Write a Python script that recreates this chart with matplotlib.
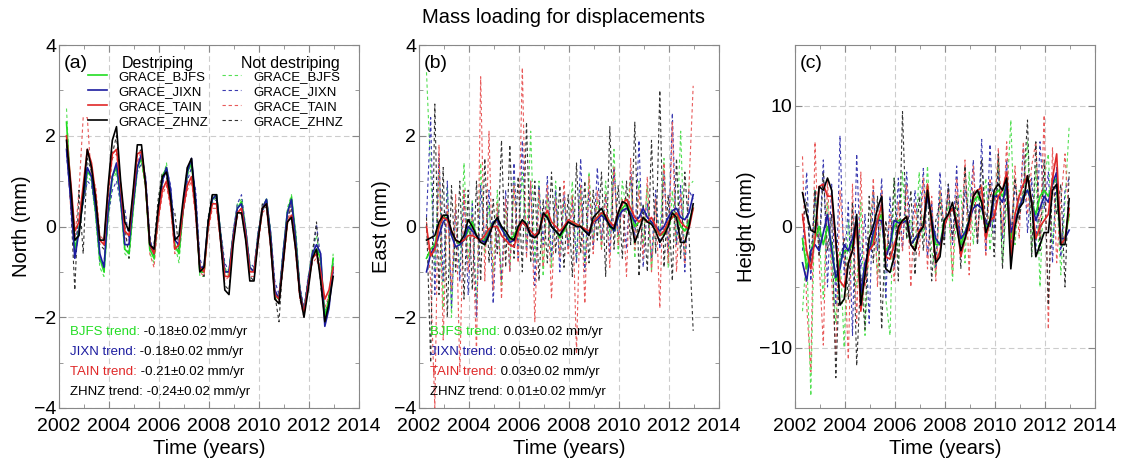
import numpy as np
import matplotlib
matplotlib.use("Agg")
import matplotlib.pyplot as plt
from matplotlib.lines import Line2D

plt.rcParams["font.family"] = ["Liberation Sans", "DejaVu Sans"]

# bimonthly GRACE epochs, 2002.3 .. 2012.97
years = np.round(2002.3 + np.arange(65) / 6.0, 3)

stations = ["BJFS", "JIXN", "TAIN", "ZHNZ"]
colors = ["#22dd22", "#1c1ca0", "#e02828", "#000000"]
colors_nd = ["#55e055", "#3a3ab0", "#e85a5a", "#333333"]

# ---- North (mm) ----
north_destr = {
    "BJFS": [2.3, 0.8, -0.5, -0.1, 0.6,
             1.2, 1.1, 0.3, -0.7, -1.0, 0.3,
             1.1, 1.3, 0.6, -0.5, -0.6, 0.4,
             1.3, 1.5, 0.9, -0.5, -0.7, 0.3,
             1.1, 1.3, 0.7, -0.4, -0.6, 0.4,
             1.2, 1.4, 0.5, -1.0, -1.0, 0.1,
             0.6, 0.7, -0.2, -1.0, -1.0, -0.2,
             0.4, 0.55, -0.1, -0.9, -1.0, -0.2,
             0.4, 0.6, -0.2, -1.5, -1.6, -0.6,
             0.3, 0.65, -0.2, -1.4, -1.9, -1.2,
             -0.6, -0.5, -0.7, -2.0, -1.6, -0.7],
    "JIXN": [1.7, 0.6, -0.7, -0.1, 0.6,
             1.3, 1.1, 0.4, -0.6, -0.9, 0.4,
             1.1, 1.4, 0.6, -0.4, -0.4, 0.5,
             1.3, 1.6, 1.0, -0.4, -0.6, 0.3,
             1.0, 1.3, 0.8, -0.3, -0.4, 0.4,
             1.2, 1.5, 0.6, -0.9, -0.9, 0.1,
             0.6, 0.7, -0.2, -1.0, -1.0, -0.2,
             0.4, 0.5, -0.1, -0.9, -1.0, -0.2,
             0.4, 0.6, -0.2, -1.4, -1.6, -0.6,
             0.3, 0.6, -0.3, -1.4, -1.9, -1.2,
             -0.6, -0.4, -0.6, -2.2, -1.8, -0.9],
    "TAIN": [2.0, 1.0, -0.1, 0.1, 0.9,
             1.7, 1.4, 0.7, -0.3, -0.4, 0.8,
             1.6, 1.7, 0.9, -0.1, -0.2, 0.7,
             1.6, 1.65, 0.9, -0.4, -0.6, 0.2,
             0.8, 1.0, 0.5, -0.5, -0.4, 0.4,
             0.9, 1.1, 0.3, -0.9, -1.0, 0.0,
             0.5, 0.5, -0.3, -1.1, -1.1, -0.3,
             0.3, 0.4, -0.2, -1.0, -1.0, -0.3,
             0.4, 0.5, -0.4, -1.5, -1.6, -0.8,
             0.1, 0.25, -0.5, -1.5, -1.9, -1.3,
             -0.7, -0.6, -1.0, -1.6, -1.4, -0.9],
    "ZHNZ": [1.9, 0.9, -0.3, -0.2, 0.7,
             1.7, 1.3, 0.6, -0.3, -0.3, 0.9,
             1.9, 2.2, 1.0, 0.1, -0.1, 0.8,
             1.8, 1.8, 0.9, -0.4, -0.5, 0.4,
             1.1, 1.2, 0.6, -0.3, -0.2, 0.6,
             1.3, 1.5, 0.4, -1.0, -0.9, 0.1,
             0.7, 0.7, -0.3, -1.4, -1.5, -0.4,
             0.3, 0.3, -0.3, -1.2, -1.2, -0.3,
             0.4, 0.5, -0.4, -1.6, -1.7, -0.8,
             0.1, 0.2, -0.5, -1.5, -2.0, -1.4,
             -0.7, -0.5, -1.2, -2.1, -1.7, -1.1],
}
north_nodestr = {
    "BJFS": [2.6, 0.7, -0.6, 0.0, 0.8,
             1.1, 1.0, 0.2, -0.9, -1.1, 0.2,
             1.0, 1.2, 0.5, -0.6, -0.7, 0.3,
             1.2, 1.4, 0.8, -0.6, -0.8, 0.3,
             1.0, 1.4, 0.6, -0.4, -0.8, 0.3,
             1.1, 1.4, 0.6, -1.1, -1.1, 0.0,
             0.5, 0.7, -0.3, -0.9, -1.1, -0.3,
             0.5, 0.6, 0.0, -0.9, -1.0, -0.2,
             0.3, 0.6, -0.2, -1.6, -1.6, -0.7,
             0.4, 0.7, -0.3, -1.5, -1.8, -1.2,
             -0.5, -0.2, -0.8, -1.9, -1.6, -0.6],
    "JIXN": [1.6, 0.5, -0.5, 0.2, 0.5,
             1.0, 0.9, 0.3, -0.8, -0.8, 0.2,
             0.8, 1.0, 0.5, 0.4, -0.3, 0.6,
             1.2, 1.4, 1.1, -0.2, -0.7, 0.2,
             0.9, 1.3, 0.9, -0.2, -0.5, 0.3,
             1.0, 1.3, 0.8, -0.7, -1.0, 0.2,
             0.5, 0.6, -0.1, -0.8, -1.0, -0.1,
             0.5, 0.7, 0.0, -0.8, -0.9, -0.1,
             0.3, 0.6, -0.1, -1.2, -1.5, -0.5,
             0.2, 0.5, -0.1, -1.3, -1.8, -1.1,
             -0.8, 0.05, -0.7, -2.1, -1.7, -0.8],
    "TAIN": [1.9, 0.4, -0.3, 0.8, 2.4,
             2.4, 1.0, 0.9, -0.2, -0.3, 0.7,
             1.5, 1.6, 0.8, -0.2, -0.4, 0.8,
             1.4, 1.7, 0.8, -0.6, -0.9, 0.1,
             0.7, 0.9, 0.4, -0.6, -0.5, 0.3,
             0.8, 1.0, 0.2, -1.0, -1.1, -0.1,
             0.4, 0.4, -0.4, -1.2, -1.1, -0.2,
             0.2, 0.3, -0.3, -1.1, -1.1, -0.4,
             0.3, 0.4, -0.5, -1.6, -1.7, -0.9,
             0.0, 0.6, -0.6, -1.6, -2.0, -1.2,
             -0.8, -0.7, -1.1, -1.8, -1.5, -1.0],
    "ZHNZ": [1.8, 0.5, -1.4, 0.8, -0.6,
             1.5, 1.2, 0.5, -0.4, -0.5, 0.7,
             1.6, 2.0, 0.9, 0.0, -0.7, 0.6,
             1.6, 1.7, 1.0, -0.5, -0.4, 0.6,
             1.2, 1.1, 0.5, 0.3, -0.5, 0.5,
             1.3, 1.4, 0.5, -0.9, -1.1, 0.2,
             0.7, 0.6, -0.4, -1.3, -1.4, -0.3,
             0.3, 0.4, -0.2, -1.1, -1.2, -0.2,
             0.5, 0.4, -0.5, -1.5, -2.1, -0.7,
             0.2, 0.4, -0.4, -1.6, -1.9, -1.3,
             -0.6, 0.1, -1.3, -2.0, -1.5, -1.0],
}

# ---- East (mm) ----
east_destr = {
    "BJFS": [-0.7, -0.5, -0.4, 0.0, 0.2,
             0.2, -0.15, -0.3, -0.4, -0.3, -0.1,
             0.1, -0.2, -0.3, -0.3, -0.1, 0.1,
             0.15, 0.0, -0.2, -0.3, -0.2, 0.0,
             0.1, 0.0, -0.2, -0.2, -0.1, 0.25,
             0.25, 0.0, -0.1, -0.25, -0.1, 0.1,
             0.1, 0.05, 0.0, -0.1, -0.15, 0.1,
             0.2, 0.3, 0.2, 0.0, -0.1, 0.2,
             0.4, 0.5, 0.3, 0.0, 0.1, 0.2,
             0.1, 0.1, 0.0, -0.2, -0.15, 0.1,
             0.2, 0.3, 0.0, -0.1, 0.1, 0.4],
    "JIXN": [-1.0, -0.6, -0.45, -0.2, 0.1,
             0.2, -0.2, -0.45, -0.4, -0.3, 0.0,
             -0.1, -0.2, -0.3, -0.35, -0.15, 0.1,
             0.15, -0.05, -0.2, -0.35, -0.3, -0.1,
             0.1, 0.0, -0.2, -0.2, -0.1, 0.25,
             0.2, 0.0, -0.1, -0.2, 0.0, 0.1,
             0.05, 0.0, 0.0, -0.1, -0.15, 0.1,
             0.15, 0.25, 0.15, 0.05, -0.1, 0.2,
             0.35, 0.4, 0.3, 0.1, 0.2, 0.4,
             0.2, 0.1, 0.0, -0.1, 0.0, 0.2,
             0.35, 0.4, 0.2, 0.15, 0.3, 0.7],
    "TAIN": [0.0, -0.65, -0.5, 0.0, 0.2,
             0.15, -0.1, -0.3, -0.35, -0.3, -0.2,
             -0.2, -0.25, -0.3, -0.2, -0.05, 0.0,
             0.0, -0.2, -0.3, -0.4, -0.45, -0.1,
             0.1, 0.0, -0.1, -0.2, -0.1, 0.2,
             0.35, 0.1, 0.0, -0.1, 0.0, 0.15,
             0.1, 0.05, 0.0, -0.05, -0.1, 0.1,
             0.2, 0.3, 0.25, 0.1, 0.0, 0.3,
             0.5, 0.6, 0.4, 0.2, 0.1, 0.2,
             0.1, 0.2, 0.0, -0.2, -0.1, 0.1,
             0.2, 0.3, 0.1, 0.0, -0.05, 0.4],
    "ZHNZ": [-0.3, -0.25, -0.2, 0.1, 0.25,
             0.25, -0.1, -0.3, -0.35, -0.2, 0.15,
             0.0, -0.2, -0.35, -0.4, -0.2, 0.05,
             0.2, 0.0, -0.1, -0.25, -0.3, 0.0,
             0.15, 0.05, -0.2, -0.25, -0.15, 0.3,
             0.2, 0.0, -0.1, -0.2, -0.05, 0.1,
             0.05, 0.0, 0.0, -0.1, -0.2, 0.2,
             0.3, 0.4, 0.2, 0.0, -0.05, 0.3,
             0.55, 0.5, 0.2, -0.35, -0.1, 0.2,
             0.1, 0.05, -0.1, -0.35, -0.2, 0.0,
             0.3, 0.2, -0.35, -0.35, 0.0, 0.5],
}
east_nodestr = {
    "BJFS": [3.4, 1.2, -1.0, 1.5, -1.8,
             0.9, -2.0, 0.5, -1.0, 1.4, -0.8,
             0.6, -1.7, 1.4, -0.6, 0.5, -1.0,
             0.8, -1.3, 0.4, -0.9, 1.0, -0.5,
             1.2, -0.5, 2.1, -0.8, 1.0, -1.1,
             0.7, -0.9, 1.0, -0.6, 0.6, -0.4,
             1.0, -0.8, 0.9, -0.9, 1.2, -0.3,
             0.6, -0.5, 1.0, -0.2, 1.7, -0.6,
             1.0, 0.3, 1.1, -0.7, 1.0, -0.4,
             0.9, -1.0, 0.6, -0.2, 1.5, -0.9,
             0.8, -0.4, 2.1, -0.8, 0.9, 1.0],
    "JIXN": [0.2, 2.4, -1.5, 1.6, -1.2,
             1.0, -1.8, 0.4, -1.2, 0.8, -1.5,
             0.5, -2.0, 0.9, -0.4, 0.8, -1.7,
             0.3, -1.2, 0.8, -1.0, 1.4, -0.7,
             1.9, -0.6, 1.0, -1.3, 0.9, -0.4,
             1.1, -0.7, 0.8, -1.0, 0.7, -0.5,
             0.6, -0.8, 1.5, -1.0, 0.8, -0.5,
             1.3, -0.3, 0.7, -0.6, 1.3, -0.2,
             0.5, -0.5, 1.2, -0.3, 1.9, -0.9,
             0.5, -0.7, 0.8, -0.5, 1.2, -0.6,
             2.5, -0.4, 0.9, -1.0, 0.8, 0.6],
    "TAIN": [0.1, -1.2, -4.0, 1.8, -2.5,
             0.5, -1.4, 0.7, -3.2, 0.8, -1.0,
             0.2, -2.8, 3.3, -1.2, 2.1, -1.4,
             0.5, -1.6, 0.6, -1.0, 0.9, -0.8,
             3.5, -0.7, 1.0, -2.1, 0.8, -0.9,
             0.9, -1.6, 0.6, -0.7, 1.0, -0.6,
             0.7, -2.8, 0.9, -1.7, 1.1, -0.6,
             0.8, -0.5, 0.7, -0.9, 1.3, -0.4,
             0.6, -1.1, 1.5, -0.5, 0.8, -0.7,
             1.1, -1.0, 0.6, -1.8, 1.4, -0.8,
             2.3, -1.0, 0.7, -0.8, 0.9, 3.1],
    "ZHNZ": [0.2, -3.0, 2.7, -1.5, 1.3,
             -2.0, 0.9, -1.0, 1.0, -1.6, 0.8,
             -1.4, 1.0, -1.2, 1.5, -0.8, 0.6,
             -0.6, 1.9, -0.9, 1.8, -0.7, 1.1,
             -1.0, 2.3, -0.8, 1.0, -1.2, 0.6,
             -0.8, 1.2, -0.6, 0.9, -0.9, 0.7,
             -1.1, 1.4, -0.6, 1.0, -0.8, 0.8,
             -0.3, 1.2, -1.1, 2.2, -0.5, 0.9,
             -0.7, 1.0, -0.4, 2.3, -1.1, 0.5,
             -1.0, 1.9, -0.6, 3.0, -0.9, 0.7,
             -1.2, 1.5, -0.7, 1.2, -0.2, -2.3],
}

# ---- Height (mm) ----
height_destr = {
    "BJFS": [-1.0, -3.5, -2.0, -1.0, 0.0,
             -1.5, 0.0, -1.5, -4.5, -3.0, -2.0,
             -2.0, -1.5, 0.0, -6.0, -3.5, -2.0,
             -1.0, 0.5, 1.0, -2.0, -1.5, 0.0,
             0.5, 0.5, 0.5, -1.5, -1.0, -0.5,
             0.0, 2.5, 0.5, -1.5, -1.5, 0.5,
             1.0, 1.5, 0.5, -1.5, -0.5, 0.5,
             2.0, 2.5, 2.0, 0.0, 0.5, 2.5,
             3.0, 2.5, 3.5, -1.0, 0.5, 1.5,
             2.5, 3.0, 2.0, 1.0, 2.5, 3.0,
             2.5, 3.5, 4.0, -1.0, -1.0, 1.0],
    "JIXN": [-3.0, -4.5, -2.0, -1.5, -2.0,
             -0.5, 1.0, -2.0, -4.2, -3.5, -1.5,
             -2.0, -1.0, 0.5, -5.5, -3.0, -2.0,
             -0.5, 0.5, 0.5, -2.5, -1.5, 0.5,
             0.3, 0.3, 0.5, -1.5, -1.0, -0.5,
             0.0, 2.5, 0.5, -1.0, -1.5, 0.0,
             1.0, 1.5, 0.5, -1.0, -0.5, 0.5,
             1.5, 1.8, 1.5, 0.3, 0.0, 2.5,
             2.5, 2.0, 3.5, -0.5, 0.5, 1.5,
             2.5, 3.0, 2.0, 0.5, 1.5, 2.5,
             2.0, 3.5, 4.5, -1.0, -1.0, -0.3],
    "TAIN": [1.0, -2.0, -3.5, -1.0, 3.3,
             3.5, 2.5, 2.5, -1.5, -4.5, -5.0,
             -3.0, -2.0, 0.0, -7.0, -4.0, -2.0,
             -1.5, 0.5, 1.8, -2.5, -2.7, -1.5,
             -0.5, 0.5, 0.8, -1.5, -2.0, -0.3,
             0.0, 3.5, 0.0, -3.0, -2.0, 0.0,
             1.0, 1.5, 0.5, -2.5, -1.0, 0.0,
             2.5, 3.0, 3.2, -1.0, 0.5, 0.8,
             2.5, 3.0, 4.5, -2.5, 1.0, 2.5,
             3.5, 4.2, 2.0, -1.0, 0.0, 0.5,
             1.0, 4.0, 6.0, -1.5, -1.0, 1.5],
    "ZHNZ": [2.8, 1.0, -0.3, -0.5, 3.3,
             3.0, 4.0, 3.0, -1.0, -6.5, -6.0,
             -3.0, -2.0, 1.0, -6.5, -4.0, -1.0,
             0.0, 1.5, 2.5, -3.5, -3.8, -2.5,
             0.0, 0.5, 0.8, -1.5, -2.0, -0.5,
             0.0, 3.0, 0.5, -3.0, -2.5, 0.5,
             1.0, 2.0, 0.0, -2.0, -1.0, 0.5,
             2.5, 3.0, 2.0, -0.5, 0.5, 3.0,
             3.5, 3.0, 4.0, -3.5, 0.0, 1.5,
             2.0, 4.2, 2.0, -2.5, -1.5, -0.5,
             -0.5, 3.0, 3.5, -1.5, -1.5, 2.3],
}
height_nodestr = {
    "BJFS": [-7.0, -2.0, -14.0, 3.0, -1.0,
             -6.0, 2.0, -3.0, -8.0, -2.0, -10.0,
             0.5, -4.0, -5.0, 2.0, -9.0, -1.0,
             3.0, -4.0, 1.5, -6.0, -9.0, 4.0,
             -3.0, 4.5, -1.0, 0.5, -2.0, 4.5,
             -1.0, 5.0, -2.0, -4.0, 3.0, -1.0,
             2.0, -4.5, 1.5, 3.0, -3.0, 4.5,
             -1.5, 3.0, 0.5, 4.0, -2.0, 2.0,
             5.5, -3.0, 2.0, 8.8, -1.5, 3.0,
             2.5, 7.0, -2.5, 5.0, -5.0, 4.0,
             6.0, -1.5, 3.0, -4.0, 2.0, 8.3],
    "JIXN": [-2.0, 4.5, -4.5, 3.0, -2.0,
             5.5, -5.0, 3.5, -6.5, 7.5, -4.0,
             2.0, -9.0, 6.0, -3.5, 1.0, -8.0,
             3.0, -2.0, 4.0, -6.0, 2.5, -3.5,
             4.0, -2.0, 4.5, -1.5, 3.0, -1.0,
             4.8, -2.5, 2.0, -3.5, 4.5, -1.0,
             3.5, -1.5, 5.0, -2.5, 3.0, 0.5,
             5.5, -1.5, 7.2, -2.0, 6.8, -0.5,
             4.5, -1.0, 5.5, -2.0, 3.5, 1.0,
             6.5, -0.5, 4.0, -2.0, 7.0, 1.5,
             4.5, -3.0, 5.0, -2.5, 3.0, 4.0],
    "TAIN": [5.8, -6.5, -12.0, 7.0, -3.0,
             -9.8, 4.0, -4.5, -10.5, 3.0, -2.0,
             -11.0, 3.5, -8.0, 4.5, -5.0, -2.5,
             4.0, -5.0, 3.0, -3.0, 1.0, -4.5,
             2.0, -2.0, 3.5, -5.0, 2.0, -2.5,
             4.0, -3.5, 2.5, -4.5, 3.0, 0.0,
             3.0, -4.0, 4.0, -1.5, 5.5, -4.0,
             5.0, -1.0, 3.5, -2.5, 4.0, 0.5,
             6.5, -0.5, 7.0, -1.5, 5.0, -1.0,
             7.0, 1.0, 5.0, 7.0, -1.0, 9.2,
             -8.5, 6.5, -3.0, 2.0, 6.0, 0.5],
    "ZHNZ": [0.5, 2.0, -3.0, 3.0, -2.5,
             4.5, -2.0, 1.0, -12.5, -3.0, -1.0,
             -6.0, 2.0, -11.5, -4.0, -8.5, 2.5,
             -3.0, 2.5, -8.5, 0.5, -2.5, 4.0,
             -4.5, 9.5, -1.0, 3.0, -4.0, 2.5,
             -2.0, 3.0, -4.5, 0.5, 2.0, -1.5,
             3.5, -1.0, 2.5, -3.5, 5.0, -0.5,
             3.0, -1.5, 5.5, 0.0, 3.5, -2.5,
             6.0, -3.5, 4.0, -1.0, 4.0, 0.5,
             3.0, 8.8, -2.5, 7.0, -2.0, 5.5,
             -6.5, 4.0, 1.0, 3.5, -5.0, 4.5],
}

north_trends = ["-0.18±0.02 mm/yr", "-0.18±0.02 mm/yr", "-0.21±0.02 mm/yr", "-0.24±0.02 mm/yr"]
east_trends = ["0.03±0.02 mm/yr", "0.05±0.02 mm/yr", "0.03±0.02 mm/yr", "0.01±0.02 mm/yr"]

fig = plt.figure(figsize=(11.27, 4.68), dpi=100)
fig.text(0.5, 0.962, "Mass loading for displacements", ha="center", va="center", fontsize=14.5)

lefts = [59 / 1127, 419 / 1127, 795 / 1127]
axes = [fig.add_axes([l, 60 / 468, 300 / 1127, 363 / 468]) for l in lefts]

panels = [
    (axes[0], north_destr, north_nodestr, "North (mm)", (-4, 4), 2, 1, "(a)"),
    (axes[1], east_destr, east_nodestr, "East (mm)", (-4, 4), 2, 1, "(b)"),
    (axes[2], height_destr, height_nodestr, "Height (mm)", (-15, 15), 10, 5, "(c)"),
]

for ax, destr, nodestr, ylab, ylim, major, minor, tag in panels:
    for st, c in zip(stations, colors_nd):
        ax.plot(years, nodestr[st], color=c, lw=0.8, ls=(0, (3, 2.5)))
    for st, c in zip(stations, colors):
        ax.plot(years, destr[st], color=c, lw=1.2)
    ax.set_xlim(2002, 2014)
    ax.set_xticks(range(2002, 2015, 2))
    ax.set_xticks(range(2003, 2014, 2), minor=True)
    ax.set_yticks(np.arange(ylim[0] - ylim[0] % major, ylim[1] + 0.1, major))
    ax.set_yticks(np.arange(ylim[0], ylim[1] + 0.1, minor), minor=True)
    ax.set_ylim(*ylim)
    ax.grid(True, which="major", color="#cccccc", ls=(0, (5, 3)), lw=0.8)
    ax.tick_params(which="both", direction="in", top=True, right=True, colors="#888888",
                   labelcolor="black", labelsize=14)
    ax.tick_params(which="major", length=5)
    ax.tick_params(which="minor", length=3)
    ax.tick_params(axis="x", which="major", pad=7)
    ax.tick_params(axis="y", which="major", pad=2)
    for sp in ax.spines.values():
        sp.set_color("#888888")
    ax.set_xlabel("Time (years)", fontsize=14.5, labelpad=3)
    ax.set_ylabel(ylab, fontsize=14.5, labelpad=2)
    ax.text(0.015, 0.95, tag, transform=ax.transAxes, fontsize=14, va="center", ha="left")

# legend in panel (a)
ax = axes[0]
handles = [Line2D([], [], color=c, lw=1.2) for c in colors] + \
          [Line2D([], [], color=c, lw=0.8, ls=(0, (3, 2.5))) for c in colors_nd]
labels = ["GRACE_" + s for s in stations] * 2
ax.legend(handles, labels, ncol=2, loc="upper left", bbox_to_anchor=(0.095, 0.93),
          frameon=False, fontsize=9.5, handlelength=1.45, handletextpad=0.9,
          columnspacing=1.05, labelspacing=0.22, borderpad=0, borderaxespad=0)
ax.text(0.33, 0.95, "Destriping", transform=ax.transAxes, fontsize=11.5, ha="center", va="center")
ax.text(0.77, 0.95, "Not destriping", transform=ax.transAxes, fontsize=11.5, ha="center", va="center")

# trend annotations
for ax, trends in [(axes[0], north_trends), (axes[1], east_trends)]:
    for i, (st, c, tr) in enumerate(zip(stations, colors, trends)):
        y = 0.209 - i * 0.055
        t1 = ax.text(0.037, y, st + " trend:", transform=ax.transAxes, color=c,
                     fontsize=9.5, va="center", ha="left")
        ax.annotate(" " + tr, xy=(1, 0.5), xycoords=t1, va="center", ha="left",
                    fontsize=9.5, color="black")

fig.savefig("out.png", dpi=100)
